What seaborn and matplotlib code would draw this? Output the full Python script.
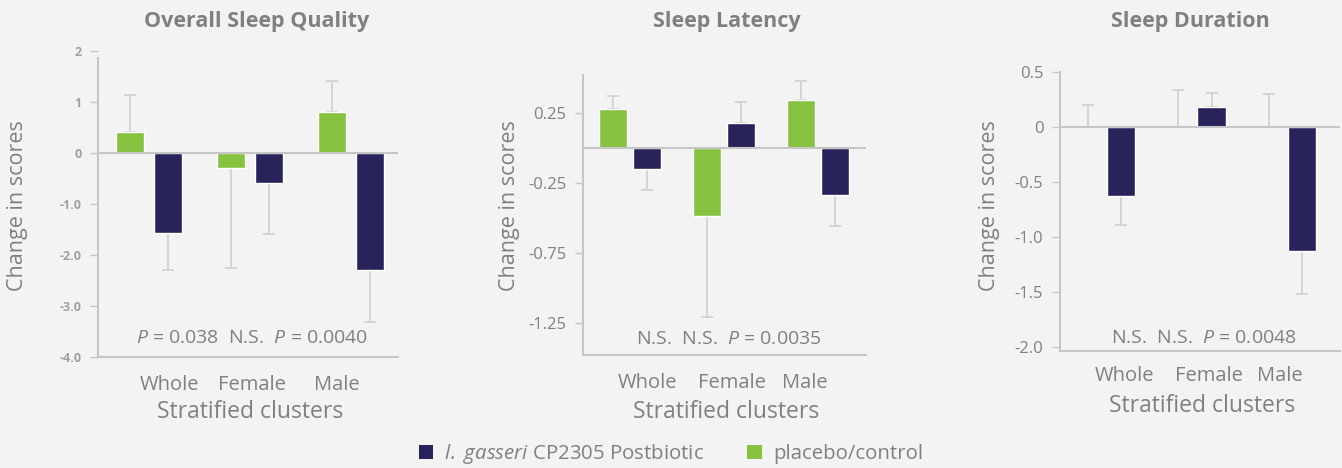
import numpy as np
import pandas as pd
import matplotlib
matplotlib.use("Agg")
import matplotlib.pyplot as plt
import seaborn as sns
from matplotlib.patches import Patch

# ------------------------------------------------------------------
# Data
# ------------------------------------------------------------------
CLUSTERS = ["Whole", "Female", "Male"]
GROUPS = ["placebo/control", "CP2305"]

# Overall Sleep Quality
osq_placebo = [0.40, -0.30, 0.79]
osq_placebo_err = [0.74, 1.96, 0.61]
osq_cp = [-1.57, -0.59, -2.30]
osq_cp_err = [0.72, 1.00, 1.02]

# Sleep Latency
sl_placebo = [0.28, -0.49, 0.34]
sl_placebo_err = [0.09, 0.72, 0.14]
sl_cp = [-0.15, 0.18, -0.34]
sl_cp_err = [0.15, 0.15, 0.22]

# Sleep Duration
sd_placebo = [0.0, 0.0, 0.0]
sd_placebo_err = [0.20, 0.33, 0.30]
sd_cp = [-0.63, 0.18, -1.13]
sd_cp_err = [0.26, 0.13, 0.39]

TITLES = ["Overall Sleep Quality", "Sleep Latency", "Sleep Duration"]
P_TEXTS = [r"$P$ = 0.038  N.S.  $P$ = 0.0040",
           r"N.S.  N.S.  $P$ = 0.0035",
           r"N.S.  N.S.  $P$ = 0.0048"]

YTICKS = [[2, 1, 0, -1, -2, -3, -4],
          [0.25, -0.25, -0.75, -1.25],
          [0.5, 0, -0.5, -1.0, -1.5, -2.0]]
YTICKLABELS = [["2", "1", "0", "-1.0", "-2.0", "-3.0", "-4.0"],
               ["0.25", "-0.25", "-0.75", "-1.25"],
               ["0.5", "0", "-0.5", "-1.0", "-1.5", "-2.0"]]

# ------------------------------------------------------------------
# Style
# ------------------------------------------------------------------
BG = "#F2F3F2"
GREEN = "#86C140"
NAVY = "#29235C"
TXT = "#808080"
LINE = "#C6C6C6"
ERR = "#D2D2D2"

sns.set_theme(style="white")
plt.rcParams["font.family"] = ["Open Sans", "DejaVu Sans"]
plt.rcParams["mathtext.fontset"] = "custom"
plt.rcParams["mathtext.rm"] = "Open Sans"
plt.rcParams["mathtext.it"] = "Open Sans:italic"

fig = plt.figure(figsize=(13.42, 4.68), dpi=100, facecolor=BG)

# axes rectangles in pixels, plus layout tweaks per panel
W, H = 1342, 468
panels = [
    dict(px=(98, 398), py=(50.7, 357), ylim=(-4, 2), xlim=(-0.505, 2.465),
         width=0.75, gap=0.25, labx=[0.2, 1.02, 1.86], spine_top=1.85,
         tick_style=dict(fontsize=9, fontweight="bold", color="#A0A0A0"),
         title_x=257, ylab_x=18, xlab_y=412, tick_pad=7, p_y=338),
    dict(px=(583, 866), py=(75, 355), ylim=(-1.48, 0.52), xlim=(-0.5, 2.51),
         width=0.72, gap=0.17, labx=[0.19, 1.085, 1.86], spine_top=None,
         tick_style=dict(fontsize=12, color=TXT),
         title_x=727, ylab_x=509, xlab_y=412, tick_pad=7, p_y=339),
    dict(px=(1060, 1340), py=(71.7, 351), ylim=(-2.04, 0.5), xlim=(-0.49, 2.6),
         width=0.73, gap=0.15, labx=[0.22, 1.15, 1.94], spine_top=None,
         tick_style=dict(fontsize=12, color=TXT),
         title_x=1190, ylab_x=990, xlab_y=406, tick_pad=5, p_y=338),
]

data = [
    (osq_placebo, osq_placebo_err, osq_cp, osq_cp_err),
    (sl_placebo, sl_placebo_err, sl_cp, sl_cp_err),
    (sd_placebo, sd_placebo_err, sd_cp, sd_cp_err),
]

for i, (cfg, (pv, pe, cv, ce)) in enumerate(zip(panels, data)):
    x0, x1 = cfg["px"]
    y0, y1 = cfg["py"]
    ax = fig.add_axes([x0 / W, 1 - y1 / H, (x1 - x0) / W, (y1 - y0) / H])
    ax.set_facecolor(BG)

    df = pd.DataFrame({
        "cluster": CLUSTERS * 2,
        "group": [GROUPS[0]] * 3 + [GROUPS[1]] * 3,
        "value": pv + cv,
    })
    sns.barplot(data=df, x="cluster", y="value", hue="group", order=CLUSTERS,
                hue_order=GROUPS, palette={GROUPS[0]: GREEN, GROUPS[1]: NAVY},
                width=cfg["width"], gap=cfg["gap"], saturation=1,
                errorbar=None, legend=False, ax=ax, zorder=3)

    # one-sided error bars on the bars seaborn drew
    for cont, errs in zip(ax.containers, [pe, ce]):
        for bar, e in zip(cont, errs):
            xc = bar.get_x() + bar.get_width() / 2
            v = bar.get_y() + bar.get_height()
            yerr = [[0], [e]] if v >= 0 else [[e], [0]]
            ax.errorbar([xc], [v], yerr=yerr, fmt="none", ecolor=ERR,
                        elinewidth=1.3, capsize=4, capthick=1.3, zorder=2)

    ax.axhline(0, color=LINE, lw=1.5, zorder=4)
    ax.set_ylim(*cfg["ylim"])
    ax.set_xlim(*cfg["xlim"])

    for s in ["top", "right"]:
        ax.spines[s].set_visible(False)
    for s in ["left", "bottom"]:
        ax.spines[s].set_color(LINE)
        ax.spines[s].set_linewidth(1.5)
    if cfg["spine_top"] is not None:
        ax.spines["left"].set_bounds(cfg["ylim"][0], cfg["spine_top"])

    ax.set_yticks(YTICKS[i])
    ax.set_yticklabels(YTICKLABELS[i], **cfg["tick_style"])
    ax.tick_params(axis="y", left=True, length=6, width=1, color=LINE, pad=6)
    ax.set_xticks(cfg["labx"])
    ax.set_xticklabels(CLUSTERS, fontsize=14.5, color=TXT)
    ax.tick_params(axis="x", bottom=False, pad=cfg["tick_pad"])
    ax.set_xlabel("")
    ax.set_ylabel("")

    # P-values inside the axes
    fig.text(np.mean(cfg["px"]) / W + 0.003, 1 - cfg["p_y"] / H, P_TEXTS[i],
             ha="center", va="center", fontsize=14, color=TXT)

    # titles and axis labels
    fig.text(cfg["title_x"] / W, 1 - 22 / H, TITLES[i], ha="center",
             va="center", fontsize=15.5, fontweight="bold", color=TXT)
    fig.text(cfg["ylab_x"] / W, 1 - 206 / H, "Change in scores", rotation=90,
             ha="center", va="center", fontsize=15.5, color=TXT)
    fig.text((np.mean(cfg["px"]) + 2) / W, 1 - cfg["xlab_y"] / H,
             "Stratified clusters", ha="center", va="center", fontsize=16.5,
             color=TXT)

# legend
handles = [Patch(facecolor=NAVY, edgecolor="none"),
           Patch(facecolor=GREEN, edgecolor="none")]
labels = [r"$l.\ gasseri$ CP2305 Postbiotic", "placebo/control"]
leg = fig.legend(handles, labels, loc="center", bbox_to_anchor=(0.5, 1 - 454 / H),
                 ncol=2, frameon=False, fontsize=14.7, handlelength=0.7,
                 handleheight=0.7, handletextpad=0.55, columnspacing=2.1)
for t in leg.get_texts():
    t.set_color(TXT)

fig.savefig("out.png", dpi=100, facecolor=BG)
